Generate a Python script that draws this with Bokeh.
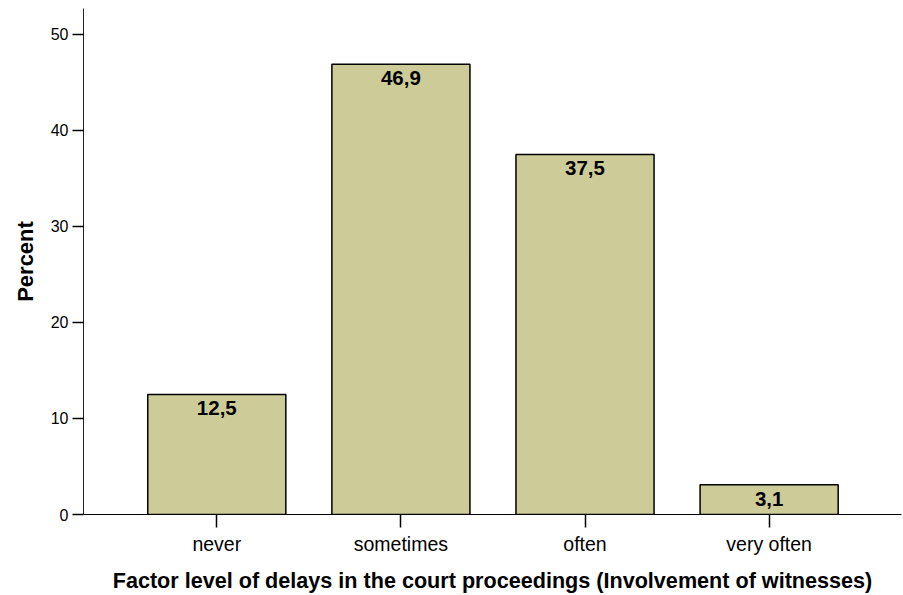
from bokeh.plotting import figure
from bokeh.models import ColumnDataSource, LabelSet, Range1d, FixedTicker
from bokeh.core.properties import value
from bokeh.embed import file_html
from bokeh.resources import INLINE

categories = ["never", "sometimes", "often", "very often"]
percent = [12.5, 46.9, 37.5, 3.1]
y_ticks = [0, 10, 20, 30, 40, 50]

xs = list(range(len(categories)))
labels = [f"{v:.1f}".replace(".", ",") for v in percent]

src = ColumnDataSource(dict(x=xs, top=percent, label=labels))

p = figure(width=903, height=595, output_backend="svg", toolbar_location=None,
           x_range=Range1d(-0.724, 3.719), y_range=Range1d(0, 52.7),
           min_border_left=83, min_border_right=2, min_border_top=8, min_border_bottom=79)

p.vbar(x="x", top="top", bottom=0, width=0.75, source=src,
       fill_color="#cdcc99", line_color="black", line_width=1.5)

lab = LabelSet(x="x", y="top", text="label", source=src, text_align="center",
               text_baseline="top", y_offset=-7, text_font=value("Liberation Sans"),
               text_font_style="bold", text_font_size="20.5px", text_color="black")
p.add_layout(lab)

p.xgrid.visible = False
p.ygrid.visible = False
p.outline_line_color = None

p.xaxis.ticker = FixedTicker(ticks=xs)
p.xaxis.major_label_overrides = {i: c for i, c in zip(xs, categories)}
p.xaxis.minor_tick_line_color = None
p.xaxis.major_tick_in = 0
p.xaxis.major_tick_out = 13
p.xaxis.major_tick_line_width = 1.5
p.xaxis.axis_line_color = "black"
p.xaxis.major_label_text_font = "Liberation Sans"
p.xaxis.major_label_text_font_size = "19.5px"
p.xaxis.major_label_text_color = "black"
p.xaxis.major_label_standoff = 5
p.xaxis.axis_label = "Factor level of delays in the court proceedings (Involvement of witnesses)"
p.xaxis.axis_label_text_font = "Liberation Sans"
p.xaxis.axis_label_text_font_style = "bold"
p.xaxis.axis_label_text_font_size = "21.6px"
p.xaxis.axis_label_text_color = "black"
p.xaxis.axis_label_standoff = 10

p.yaxis.ticker = FixedTicker(ticks=y_ticks)
p.yaxis.minor_tick_line_color = None
p.yaxis.major_tick_in = 0
p.yaxis.major_tick_out = 11
p.yaxis.major_tick_line_width = 1.5
p.yaxis.axis_line_color = "#222222"
p.yaxis.major_label_text_font = "Liberation Sans"
p.yaxis.major_label_text_font_size = "16px"
p.yaxis.major_label_text_color = "black"
p.yaxis.major_label_standoff = 4
p.yaxis.axis_label = "Percent"
p.yaxis.axis_label_text_font = "Liberation Sans"
p.yaxis.axis_label_text_font_style = "bold"
p.yaxis.axis_label_text_font_size = "22px"
p.yaxis.axis_label_text_color = "black"
p.yaxis.axis_label_standoff = 10

open("out.html", "w").write(file_html(p, INLINE))
